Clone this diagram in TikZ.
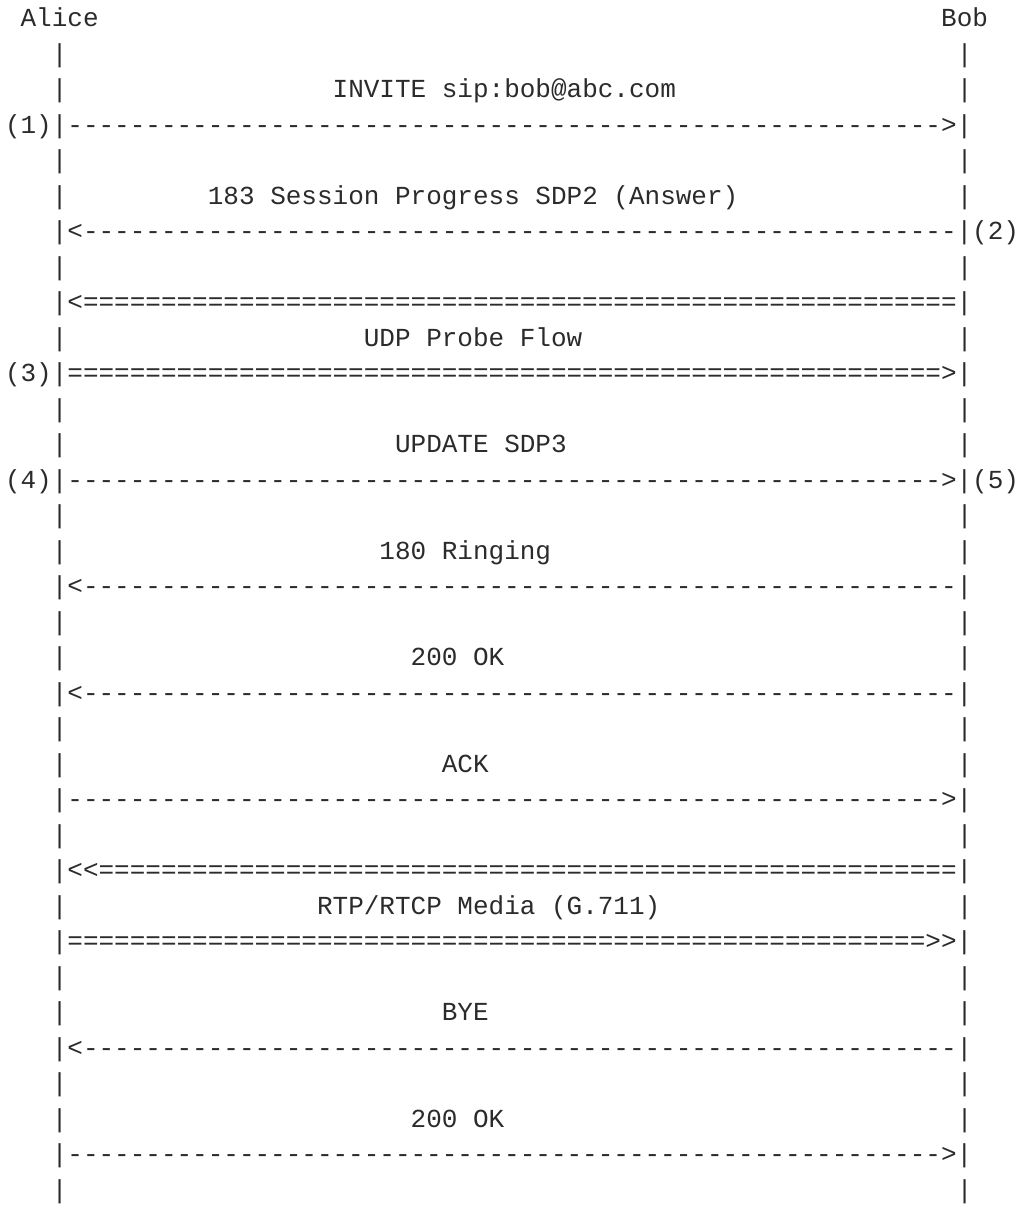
\documentclass[tikz,border=0pt]{standalone}
\usepackage{fontspec}
\setmonofont{Liberation Mono}
\usetikzlibrary{positioning}

\definecolor{ink}{HTML}{2B2B2B}

\ExplSyntaxOn
\NewExpandableDocumentCommand\rep{mm}{\prg_replicate:nn{#1}{#2}}
\ExplSyntaxOff
\newcommand\blank[1]{\rep{#1}{\ }}
\newcommand\idle{\blank{3}|\blank{57}|}
\newcommand\msg[3]{\blank{3}|\blank{#1}#2\blank{#3}|}

\begin{document}
\begin{tikzpicture}[
		line/.style={anchor=base west, inner sep=0pt, text=ink, font=\ttfamily\fontsize{10}{12}\selectfont},
	]
		\useasboundingbox[fill=white] (0,0) rectangle (391.9pt,-465pt);
		\node (r1) [line] at (1.73pt,-10.38pt) {\ Alice\blank{54}Bob};
		\node (r2) [below=13.65pt of r1.base west, line] {\idle};
		\node (r3) [below=13.65pt of r2.base west, line] {\msg{17}{INVITE sip:bob@abc.com}{18}};
		\node (r4) [below=13.65pt of r3.base west, line] {(1)|\rep{56}{-}>|};
		\node (r5) [below=13.65pt of r4.base west, line] {\idle};
		\node (r6) [below=13.65pt of r5.base west, line] {\msg{9}{183 Session Progress SDP2 (Answer)}{14}};
		\node (r7) [below=13.65pt of r6.base west, line] {\blank{3}|<\rep{56}{-}|(2)};
		\node (r8) [below=13.65pt of r7.base west, line] {\idle};
		\node (r9) [below=13.65pt of r8.base west, line] {\blank{3}|<\rep{56}{=}|};
		\node (r10) [below=13.65pt of r9.base west, line] {\msg{19}{UDP Probe Flow}{24}};
		\node (r11) [below=13.65pt of r10.base west, line] {(3)|\rep{56}{=}>|};
		\node (r12) [below=13.65pt of r11.base west, line] {\idle};
		\node (r13) [below=13.65pt of r12.base west, line] {\msg{21}{UPDATE SDP3}{25}};
		\node (r14) [below=13.65pt of r13.base west, line] {(4)|\rep{56}{-}>|(5)};
		\node (r15) [below=13.65pt of r14.base west, line] {\idle};
		\node (r16) [below=13.65pt of r15.base west, line] {\msg{20}{180 Ringing}{26}};
		\node (r17) [below=13.65pt of r16.base west, line] {\blank{3}|<\rep{56}{-}|};
		\node (r18) [below=13.65pt of r17.base west, line] {\idle};
		\node (r19) [below=13.65pt of r18.base west, line] {\msg{22}{200 OK}{29}};
		\node (r20) [below=13.65pt of r19.base west, line] {\blank{3}|<\rep{56}{-}|};
		\node (r21) [below=13.65pt of r20.base west, line] {\idle};
		\node (r22) [below=13.65pt of r21.base west, line] {\msg{24}{ACK}{30}};
		\node (r23) [below=13.65pt of r22.base west, line] {\blank{3}|\rep{56}{-}>|};
		\node (r24) [below=13.65pt of r23.base west, line] {\idle};
		\node (r25) [below=13.65pt of r24.base west, line] {\blank{3}|<<\rep{55}{=}|};
		\node (r26) [below=13.65pt of r25.base west, line] {\msg{16}{RTP/RTCP Media (G.711)}{19}};
		\node (r27) [below=13.65pt of r26.base west, line] {\blank{3}|\rep{55}{=}>>|};
		\node (r28) [below=13.65pt of r27.base west, line] {\idle};
		\node (r29) [below=13.65pt of r28.base west, line] {\msg{24}{BYE}{30}};
		\node (r30) [below=13.65pt of r29.base west, line] {\blank{3}|<\rep{56}{-}|};
		\node (r31) [below=13.65pt of r30.base west, line] {\idle};
		\node (r32) [below=13.65pt of r31.base west, line] {\msg{22}{200 OK}{29}};
		\node (r33) [below=13.65pt of r32.base west, line] {\blank{3}|\rep{56}{-}>|};
		\node (r34) [below=13.65pt of r33.base west, line] {\idle};
	\end{tikzpicture}
\end{document}
